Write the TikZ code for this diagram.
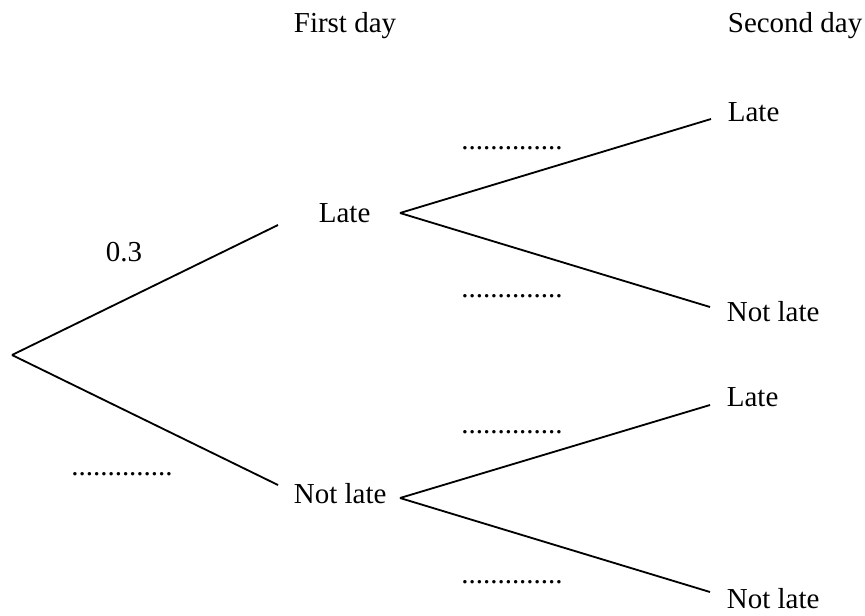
\documentclass[tikz,border=0pt]{standalone}
\usepackage{fontspec}
\setmainfont{Liberation Serif}

\begin{document}
\begin{tikzpicture}[line width=1.3pt, every node/.style={inner sep=0pt, anchor=base west, font=\fontsize{20.6}{25}\selectfont}]
    \useasboundingbox (0,0) rectangle (21.625,-15.375);

    % headings
    \node (first) at (7.325,-0.8) {First day};
    \node (second) at (18.175,-0.8) {Second day};

    % first day
    \coordinate (root) at (0.3,-8.875);
    \node (l1) at (7.95,-5.55) {Late};
    \node (n1) at (7.325,-12.575) {Not late};

    % second day
    \node (l1l) at (18.175,-3.025) {Late};
    \node (l1n) at (18.15,-8.025) {Not late};
    \node (n1l) at (18.15,-10.15) {Late};
    \node (n1n) at (18.15,-15.2) {Not late};

    % branches
    \draw (root) -- ([xshift=-1cm, yshift=-0.075cm] l1.base west);
    \draw (root) -- ([xshift=-0.375cm, yshift=0.45cm] n1.base west);
    \draw ([xshift=2.05cm, yshift=0.225cm] l1.base west) -- ([xshift=-0.4cm, yshift=0.05cm] l1l.base west);
    \draw ([xshift=2.05cm, yshift=0.225cm] l1.base west) -- ([xshift=-0.4cm, yshift=0.35cm] l1n.base west);
    \draw ([xshift=2.675cm, yshift=0.125cm] n1.base west) -- ([xshift=-0.4cm, yshift=0.025cm] n1l.base west);
    \draw ([xshift=2.675cm, yshift=0.125cm] n1.base west) -- ([xshift=-0.4cm, yshift=0.4cm] n1n.base west);

    % probabilities
    \node (p1) at (2.625,-6.525) {0.3};
    \node[anchor=base] (q1) at (3.05,-11.875) {..............};
    \node[anchor=base] (p11) at (12.8,-3.725) {..............};
    \node[anchor=base] (q11) at (12.8,-7.425) {..............};
    \node[anchor=base] (p21) at (12.8,-10.825) {..............};
    \node[anchor=base] (q21) at (12.8,-14.575) {..............};
\end{tikzpicture}
\end{document}
